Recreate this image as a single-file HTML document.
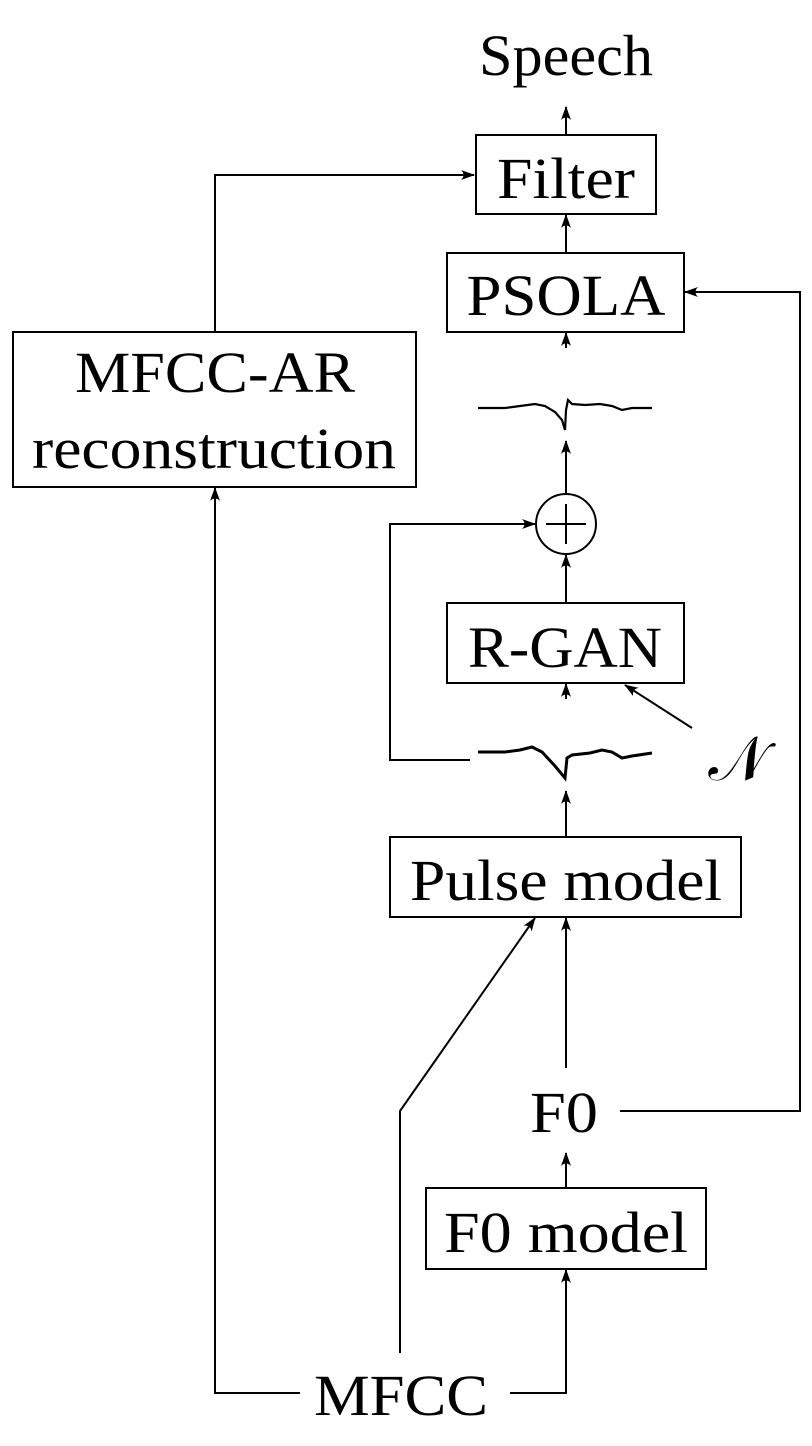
<!DOCTYPE html>
<html><head><meta charset="utf-8"><style>
html,body{margin:0;padding:0;background:#fff}
svg{display:block}
text{font-family:"Liberation Serif",serif;font-size:58px;fill:#000;text-anchor:middle}
</style></head><body>
<svg width="812" height="1446" viewBox="0 0 812 1446" xmlns="http://www.w3.org/2000/svg">
<defs>
<marker id="a" viewBox="0 0 14 10" refX="13" refY="5" markerWidth="14" markerHeight="10" markerUnits="userSpaceOnUse" orient="auto">
<path d="M0,0 Q5,5 0,10 L14,5 Z" fill="#000"/>
</marker>
</defs>
<g fill="none" stroke="#000" stroke-width="2">
<rect x="476" y="135" width="180" height="79"/>
<rect x="447" y="253" width="237" height="79"/>
<rect x="13" y="332" width="403" height="155"/>
<rect x="447" y="603" width="237" height="80"/>
<rect x="390" y="837" width="351" height="80"/>
<rect x="426" y="1188" width="280" height="81"/>
<circle cx="566" cy="524" r="30"/>
<line x1="546" y1="524" x2="586" y2="524"/>
<line x1="566" y1="504" x2="566" y2="544"/>
<line x1="566" y1="134" x2="566" y2="107" marker-end="url(#a)"/>
<line x1="566" y1="252" x2="566" y2="215" marker-end="url(#a)"/>
<line x1="566" y1="348" x2="566" y2="333" marker-end="url(#a)"/>
<line x1="566" y1="494" x2="566" y2="441" marker-end="url(#a)"/>
<line x1="566" y1="602" x2="566" y2="555" marker-end="url(#a)"/>
<line x1="566" y1="699" x2="566" y2="684" marker-end="url(#a)"/>
<line x1="692" y1="728" x2="625" y2="685" marker-end="url(#a)"/>
<polyline points="470,760 390,760 390,524 535,524" marker-end="url(#a)"/>
<line x1="566" y1="836" x2="566" y2="791" marker-end="url(#a)"/>
<line x1="566" y1="1068" x2="566" y2="918" marker-end="url(#a)"/>
<polyline points="400,1353 400,1111 535,918" marker-end="url(#a)"/>
<polyline points="620,1111 800,1111 800,292 685,292" marker-end="url(#a)"/>
<line x1="566" y1="1187" x2="566" y2="1153" marker-end="url(#a)"/>
<polyline points="510,1393 566,1393 566,1270" marker-end="url(#a)"/>
<polyline points="300,1393 215,1393 215,488" marker-end="url(#a)"/>
<polyline points="215,332 215,175 474,175" marker-end="url(#a)"/>
<path stroke-width="2.2" d="M478,408 L505,408 L520,406 L535,404 L545,406 L555,412 L562,420 L565,430 L566,410 L568,400 L572,404 L585,405 L600,404 L612,406 L622,410 L632,408 L652,408"/>
<path stroke-width="3" d="M478,752 L505,752 L520,750 L532,747 L542,752 L555,766 L565,778 L567,758 L572,755 L590,753 L602,750 L612,752 L622,758 L632,756 L652,753"/>
</g>
<text x="566" y="75" textLength="174" lengthAdjust="spacingAndGlyphs">Speech</text>
<text x="566" y="198" textLength="138" lengthAdjust="spacingAndGlyphs">Filter</text>
<text x="566" y="315" textLength="199" lengthAdjust="spacingAndGlyphs">PSOLA</text>
<text x="215" y="392" textLength="280" lengthAdjust="spacingAndGlyphs">MFCC-AR</text>
<text x="214" y="468" textLength="364" lengthAdjust="spacingAndGlyphs">reconstruction</text>
<text x="565" y="667" textLength="194" lengthAdjust="spacingAndGlyphs">R-GAN</text>
<text x="566" y="900" textLength="312" lengthAdjust="spacingAndGlyphs">Pulse model</text>
<text x="564" y="1132" textLength="68" lengthAdjust="spacingAndGlyphs">F0</text>
<text x="566" y="1252" textLength="244" lengthAdjust="spacingAndGlyphs">F0 model</text>
<text x="401" y="1415" textLength="174" lengthAdjust="spacingAndGlyphs">MFCC</text>
<text x="738" y="780" style="font-size:62px">𝒩</text>
</svg>
</body></html>
